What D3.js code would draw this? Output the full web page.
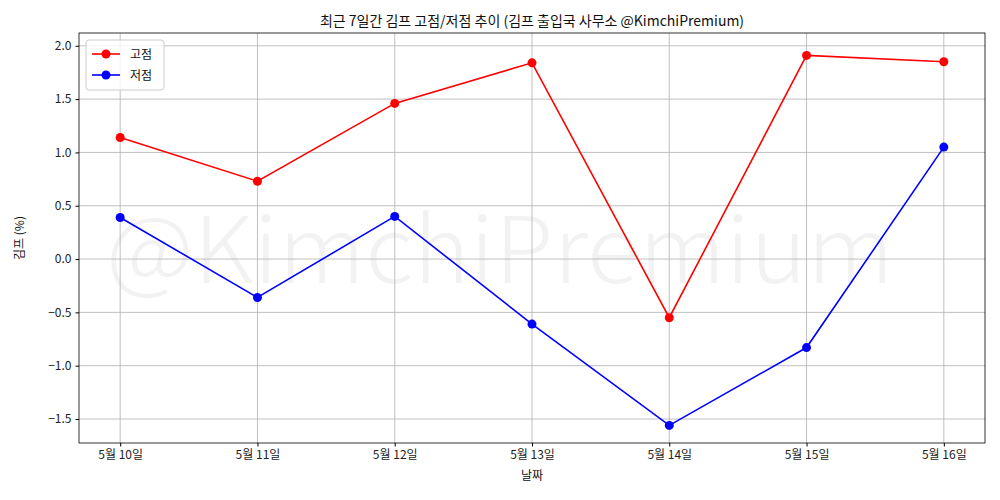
<!DOCTYPE html>
<html>
<head>
<meta charset="utf-8">
<script src="https://cdn.jsdelivr.net/npm/d3@7"></script>
<style>
  body { margin: 0; background: #fff; }
  text { font-family: "Noto Sans CJK KR", "Noto Sans", sans-serif; }
</style>
</head>
<body>
<svg id="chart" width="1000" height="500"></svg>
<script>
const dates = ["5월 10일", "5월 11일", "5월 12일", "5월 13일", "5월 14일", "5월 15일", "5월 16일"];
const highs = [1.14, 0.73, 1.46, 1.84, -0.55, 1.91, 1.85];
const lows = [0.39, -0.36, 0.40, -0.61, -1.56, -0.83, 1.05];
const yTicks = [-1.5, -1.0, -0.5, 0.0, 0.5, 1.0, 1.5, 2.0];

const svg = d3.select("#chart");
const mLeft = 79, mRight = 985, mTop = 33, mBottom = 443;

const x = d3.scaleLinear().domain([-0.3, 6.3]).range([mLeft, mRight]);
const y = d3.scaleLinear().domain([-1.725, 2.12]).range([mBottom, mTop]);

// watermark
svg.append("text")
  .attr("x", 500).attr("y", 258)
  .attr("text-anchor", "middle").attr("dominant-baseline", "middle")
  .attr("font-size", 92).attr("font-weight", 300).attr("fill", "#000").attr("fill-opacity", 0.05)
  .attr("textLength", 788).attr("lengthAdjust", "spacingAndGlyphs")
  .text("@KimchiPremium");

// grid
const grid = svg.append("g").attr("stroke", "#b0b0b0").attr("stroke-width", 0.8);
dates.forEach((d, i) => {
  grid.append("line").attr("x1", x(i)).attr("x2", x(i)).attr("y1", mTop).attr("y2", mBottom);
});
yTicks.forEach((t) => {
  grid.append("line").attr("x1", mLeft).attr("x2", mRight).attr("y1", y(t)).attr("y2", y(t));
});

// axes
const fmt = (d) => (d < 0 ? "\u2212" : "") + Math.abs(d).toFixed(1);
const xAxis = svg.append("g")
  .attr("transform", `translate(0,${mBottom})`)
  .call(d3.axisBottom(x).tickValues(d3.range(7)).tickFormat((i) => dates[i]).tickSizeOuter(0).tickSize(3.5).tickPadding(4));
const yAxis = svg.append("g")
  .attr("transform", `translate(${mLeft},0)`)
  .call(d3.axisLeft(y).tickValues(yTicks).tickFormat(fmt).tickSizeOuter(0).tickSize(3.5).tickPadding(4));
[xAxis, yAxis].forEach((a) => {
  a.selectAll("text").attr("font-size", 12).attr("fill", "#222");
  a.select(".domain").remove();
});
svg.append("rect").attr("x", mLeft).attr("y", mTop).attr("width", mRight - mLeft).attr("height", mBottom - mTop)
  .attr("fill", "none").attr("stroke", "#000").attr("stroke-width", 0.8);

// lines
const line = d3.line().x((d, i) => x(i)).y((d) => y(d));
[[highs, "#ff0000"], [lows, "#0000ff"]].forEach(([vals, c]) => {
  svg.append("path").attr("d", line(vals)).attr("fill", "none").attr("stroke", c).attr("stroke-width", 1.6);
  svg.append("g").selectAll("circle").data(vals).join("circle")
    .attr("cx", (d, i) => x(i)).attr("cy", (d) => y(d)).attr("r", 4.5).attr("fill", c);
});

// title and labels
svg.append("text").attr("x", (mLeft + mRight) / 2).attr("y", 26).attr("text-anchor", "middle")
  .attr("font-size", 14).attr("fill", "#111").text("최근 7일간 김프 고점/저점 추이 (김프 출입국 사무소 @KimchiPremium)");
svg.append("text").attr("x", (mLeft + mRight) / 2).attr("y", 480).attr("text-anchor", "middle")
  .attr("font-size", 12).attr("fill", "#111").text("날짜");
svg.append("text").attr("transform", `translate(24,${(mTop + mBottom) / 2}) rotate(-90)`).attr("text-anchor", "middle")
  .attr("font-size", 12).attr("fill", "#111").text("김프 (%)");

// legend
const lg = svg.append("g").attr("transform", "translate(86,40)");
lg.append("rect").attr("width", 78).attr("height", 50).attr("rx", 3).attr("fill", "#fff").attr("fill-opacity", 0.8)
  .attr("stroke", "#ccc");
[["고점", "#ff0000"], ["저점", "#0000ff"]].forEach(([n, c], i) => {
  const yy = 14 + i * 21;
  lg.append("line").attr("x1", 6).attr("x2", 34).attr("y1", yy).attr("y2", yy).attr("stroke", c).attr("stroke-width", 1.6);
  lg.append("circle").attr("cx", 20).attr("cy", yy).attr("r", 4.5).attr("fill", c);
  lg.append("text").attr("x", 44).attr("y", yy + 4.5).attr("font-size", 12).attr("fill", "#111").text(n);
});
</script>
</body>
</html>
